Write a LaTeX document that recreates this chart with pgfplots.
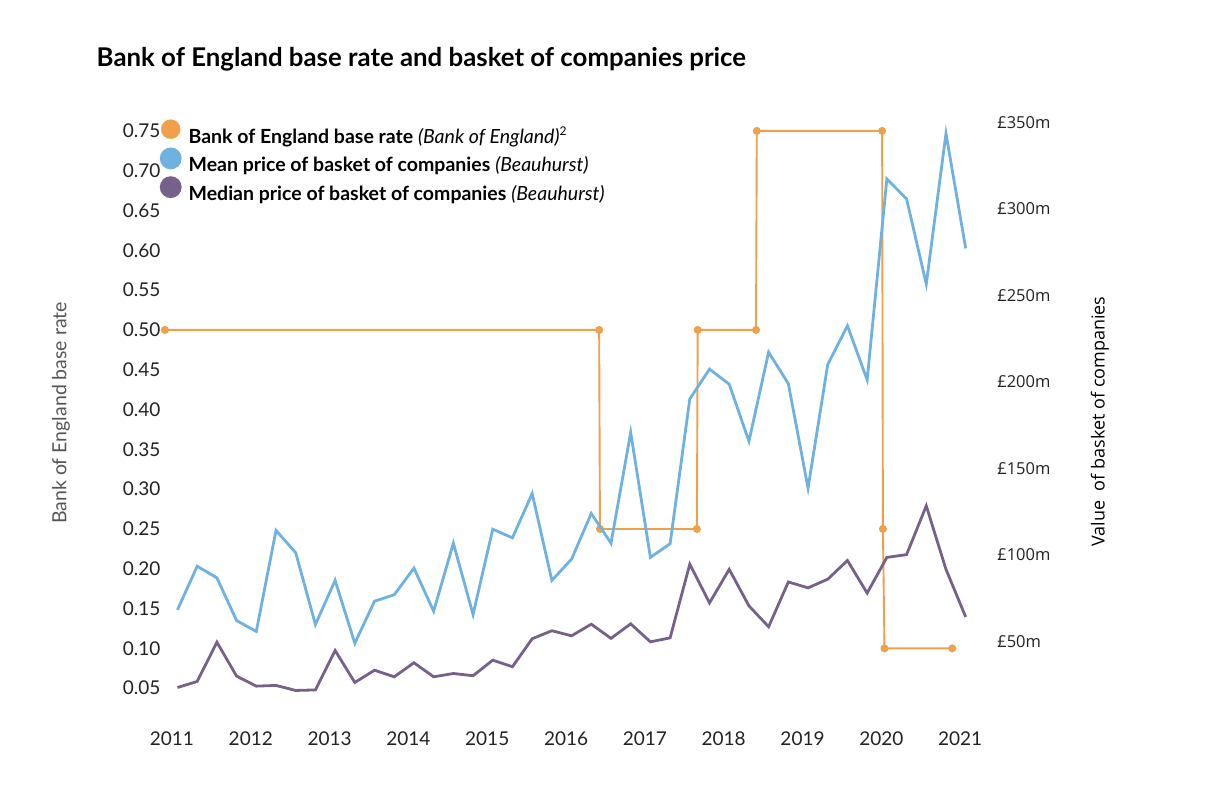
\documentclass[border=0pt]{standalone}
\usepackage{fontspec}
\setmainfont{Lato}
\newfontfamily\rfont{Open Sans}
\usepackage{pgfplots}
\pgfplotsset{compat=1.18}
\usepackage{pgfplotstable}
\definecolor{boeorange}{HTML}{F0A04B}
\definecolor{meanblue}{HTML}{6FB1E0}
\definecolor{medpurple}{HTML}{75618A}
\definecolor{labgray}{HTML}{555555}
\definecolor{tickblack}{HTML}{222222}

\pgfplotstableread{
x mean median
2011.07 68.3 23.4
2011.32 93.5 26.9
2011.57 86.8 49.6
2011.82 62.1 30.0
2012.07 55.8 24.2
2012.32 114.2 24.6
2012.57 101.3 21.7
2012.82 59.8 22.0
2013.07 85.3 44.8
2013.32 49.0 26.3
2013.57 73.3 33.4
2013.82 77.0 29.6
2014.07 92.4 37.7
2014.32 67.5 29.6
2014.57 106.8 31.5
2014.82 65.6 30.2
2015.07 114.9 39.2
2015.32 109.9 35.4
2015.57 135.5 51.6
2015.82 85.3 56.2
2016.07 97.6 53.3
2016.32 124.0 60.0
2016.57 106.8 51.8
2016.82 170.8 60.2
2017.07 98.6 49.8
2017.32 106.5 52.1
2017.57 190.2 94.7
2017.82 207.4 72.3
2018.07 198.7 91.7
2018.32 165.7 70.6
2018.57 217.2 58.5
2018.82 199.0 84.4
2019.07 138.7 81.0
2019.32 210.1 86.0
2019.57 232.5 96.8
2019.82 201.2 78.0
2020.07 317.3 98.6
2020.32 305.8 100.2
2020.57 256.6 128.4
2020.82 343.6 91.7
2021.07 277.2 64.2
}\basket

\pgfplotstableread{
x rate
2010.91 0.50
2016.42 0.50
2016.43 0.25
2017.66 0.25
2017.67 0.50
2018.41 0.50
2018.42 0.75
2020.01 0.75
2020.02 0.25
2020.04 0.10
2020.90 0.10
}\rate

\begin{document}
\begin{tikzpicture}
\path[use as bounding box] (0pt,0pt) rectangle (1218pt,800pt);
\node[anchor=base west, inner sep=0pt, font=\fontsize{25.8}{29}\selectfont\bfseries, text=black] at (96.5pt,733pt) {Bank of England base rate and basket of companies price};

\begin{axis}[
  at={(162.5pt,72pt)}, anchor=south west,
  scale only axis, width=821.3pt, height=613pt,
  xmin=2010.88, xmax=2021.3, ymin=0, ymax=0.77,
  axis line style={draw=none}, major tick length=0pt,
  xtick={2011,2012,2013,2014,2015,2016,2017,2018,2019,2020,2021},
  xticklabels={2011,2012,2013,2014,2015,2016,2017,2018,2019,2020,2021},
  ytick={0.05,0.10,0.15,0.20,0.25,0.30,0.35,0.40,0.45,0.50,0.55,0.60,0.65,0.70,0.75},
  yticklabels={0.05,0.10,0.15,0.20,0.25,0.30,0.35,0.40,0.45,0.50,0.55,0.60,0.65,0.70,0.75},
  ticklabel style={font=\fontsize{19}{22}\selectfont, text=tickblack},
  yticklabel style={inner sep=2pt},
  ylabel={Bank of England base rate},
  ylabel style={at={(axis description cs:-0.1236,0.514)}, anchor=center, font=\fontsize{19.5}{22}\selectfont, text=labgray},
  clip=false,
]
\addplot[boeorange, line width=1.9pt, mark=*, mark size=3pt, mark options={fill=boeorange, draw=boeorange}] table[x=x, y=rate] {\rate};
\end{axis}

\begin{axis}[
  at={(162.5pt,72pt)}, anchor=south west,
  scale only axis, width=821.3pt, height=613pt,
  xmin=2010.88, xmax=2021.3, ymin=0, ymax=354.3,
  axis line style={draw=none}, major tick length=0pt,
  xtick=\empty,
  yticklabel pos=right,
  ytick={50,100,150,200,250,300,350},
  yticklabels={£50m,£100m,£150m,£200m,£250m,£300m,£350m},
  yticklabel style={font=\rfont\fontsize{16.5}{20}\selectfont, text=tickblack, anchor=west, xshift=10pt},
  ylabel={Value\ \ of basket of companies},
  ylabel style={at={(axis description cs:1.1414,0.5)}, anchor=center, rotate=0, font=\rfont\fontsize{18}{21}\selectfont, text=black},
  legend cell align=left,
  legend image code/.code={\fill (0pt,6.5pt) circle (9.5pt);},
  legend style={at={(axis description cs:-0.0035,0.993)}, anchor=north west, draw=none, fill=none,
    font=\fontsize{19.5}{22}\selectfont, column sep=7pt, row sep=3pt, inner sep=0pt,
    nodes={inner sep=0pt}},
  clip=false,
]
\addlegendimage{boeorange}
\addlegendentry{\textbf{Bank of England base rate} \textit{(Bank of England)}\textsuperscript{\fontsize{12}{13}\selectfont 2}}
\addplot[meanblue, line width=2.8pt, line join=miter] table[x=x, y=mean] {\basket};
\addlegendentry{\textbf{Mean price of basket of companies} \textit{(Beauhurst)}}
\addplot[medpurple, line width=2.8pt] table[x=x, y=median] {\basket};
\addlegendentry{\textbf{Median price of basket of companies} \textit{(Beauhurst)}}
\end{axis}
\end{tikzpicture}
\end{document}
